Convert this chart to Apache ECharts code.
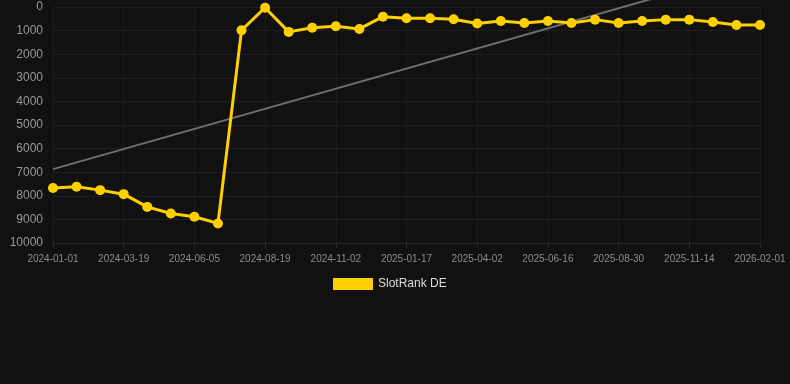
<!DOCTYPE html>
<html lang="en">
<head>
    <meta charset="UTF-8">
    <title>SlotRank DE</title>
    <script src="https://cdn.jsdelivr.net/npm/echarts@6/dist/echarts.min.js"></script>
    <style>
        html, body { margin: 0; padding: 0; background: #111111; }
        #charts { width: 790px; height: 384px; }
    </style>
</head>
<body>
<div id="charts"></div>
<script>
    var dates = [
        '2024-01-01', '2024-01-27', '2024-02-22', '2024-03-19', '2024-04-14', '2024-05-10',
        '2024-06-05', '2024-06-30', '2024-07-25', '2024-08-19', '2024-09-13', '2024-10-08',
        '2024-11-02', '2024-11-27', '2024-12-22', '2025-01-17', '2025-02-11', '2025-03-08',
        '2025-04-02', '2025-04-27', '2025-05-22', '2025-06-16', '2025-07-11', '2025-08-05',
        '2025-08-30', '2025-09-24', '2025-10-19', '2025-11-14', '2025-12-10', '2026-01-05',
        '2026-02-01'
    ];
    var rank = [
        7670, 7620, 7760, 7930, 8470, 8750, 8890, 9170,
        985, 30, 1055, 875, 815, 930, 410, 480, 480, 520, 700, 590,
        675, 590, 675, 535, 675, 590, 535, 535, 635, 760, 760
    ];
    // trend line end points: [index, value]
    var trend = [[0, 6870], [30, -1650]];
    var yTicks = { min: 0, max: 10000, step: 1000 };

    var myChart = echarts.init(document.getElementById('charts'));

    var option = {
        backgroundColor: '#111111',
        animation: false,
        grid: { left: 53, right: 30, top: 7, bottom: 141 },
        legend: {
            top: 273,
            left: 328,
            itemWidth: 40,
            itemHeight: 12,
            icon: 'rect',
            data: ['SlotRank DE'],
            textStyle: { color: '#dddddd', fontSize: 12, fontFamily: 'Arial, Liberation Sans, sans-serif' }
        },
        xAxis: {
            type: 'category',
            data: dates,
            boundaryGap: false,
            axisLine: { show: true, onZero: false, lineStyle: { color: '#2a2a2a' } },
            axisTick: { show: true, interval: 2, length: 5, lineStyle: { color: '#2a2a2a' } },
            axisLabel: {
                interval: 2,
                color: '#8c8c8c',
                fontSize: 10,
                margin: 11,
                fontFamily: 'Arial, Liberation Sans, sans-serif'
            },
            splitLine: { show: true, interval: 2, lineStyle: { color: '#1c1c1c' } }
        },
        yAxis: {
            type: 'value',
            inverse: true,
            min: yTicks.min,
            max: yTicks.max,
            interval: yTicks.step,
            axisLine: { show: false },
            axisTick: { show: false },
            axisLabel: {
                color: '#999999',
                fontSize: 12,
                margin: 10,
                formatter: function (v) { return String(v); },
                fontFamily: 'Arial, Liberation Sans, sans-serif'
            },
            splitLine: { lineStyle: { color: '#1e1e1e' } }
        },
        series: [
            {
                name: 'trend',
                type: 'line',
                data: trend,
                clip: false,
                symbol: 'none',
                silent: true,
                lineStyle: { color: '#6e6e6e', width: 2 },
                z: 1
            },
            {
                name: 'SlotRank DE',
                type: 'line',
                data: rank,
                symbol: 'circle',
                symbolSize: 10,
                itemStyle: { color: '#ffd000' },
                lineStyle: { color: '#ffd000', width: 3 },
                z: 3
            }
        ]
    };

    myChart.setOption(option);
</script>
</body>
</html>
